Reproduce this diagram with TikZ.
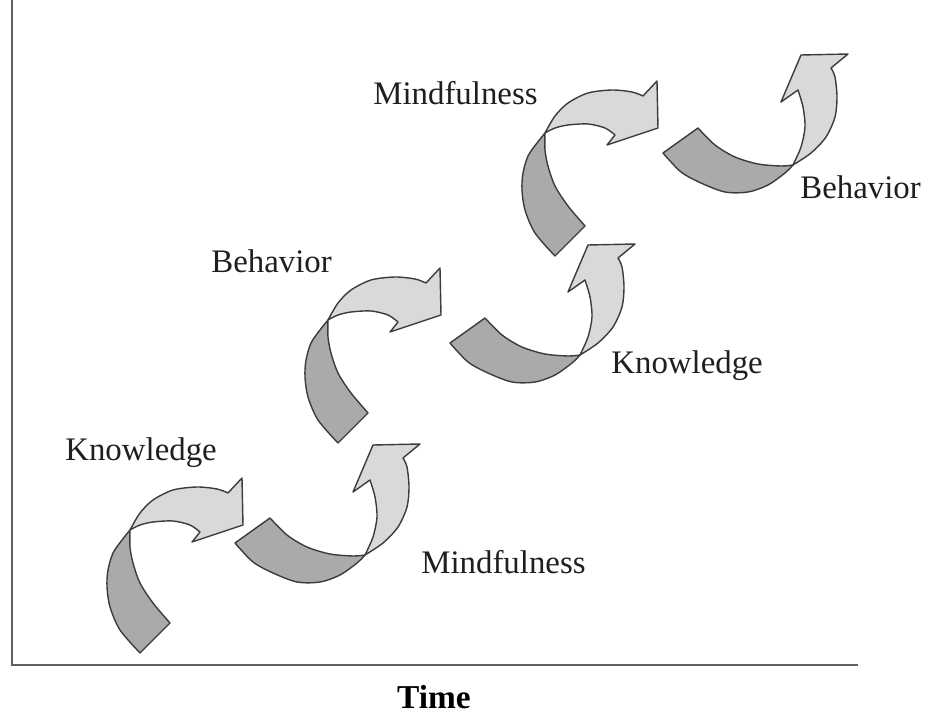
\documentclass[tikz,border=0pt]{standalone}
\usepackage{fontspec}
\setmainfont{Liberation Serif}
\usetikzlibrary{positioning}
\definecolor{ribbondark}{RGB}{170,170,170}
\definecolor{ribbonlight}{RGB}{217,217,217}
\definecolor{ribbonedge}{RGB}{60,60,60}
\definecolor{axisgray}{RGB}{95,95,95}
\tikzset{
  back/.style={fill=ribbondark, draw=ribbonedge, line width=0.8pt, line join=round},
  front/.style={fill=ribbonlight, draw=ribbonedge, line width=0.8pt, line join=round},
  axis/.style={draw=axisgray, line width=1.2pt},
  stage/.style={font=\fontsize{18.7}{22}\selectfont, text=black!88, inner sep=0pt, anchor=base west}
}

\begin{document}
\begin{tikzpicture}[x=0.02cm, y=-0.02cm]
\useasboundingbox (0,0) rectangle (927,713);

% axes
\coordinate (ytop) at (12,0);
\coordinate (origin) at (12,665);
\coordinate (xend) at (858,665);
\draw[axis] (ytop) -- (origin) -- (xend);
\node[font=\fontsize{19}{22}\selectfont\bfseries, inner sep=0pt] (time) at (434,697) {Time};

% curl arrows turning right
\foreach \cx/\cy in {130/530, 328/320, 545/133} {
  \begin{scope}[shift={(\cx,\cy)}]
    \filldraw[back] plot[smooth] coordinates {(0,0) (-8,10) (-17,23) (-22,40) (-23,57) (-20,77) (-10,100) (10,123)}
      -- plot[smooth] coordinates {(40,93) (23,73) (10,53) (3,33) (0,17) (0,0)} -- cycle;
    \filldraw[front] plot[smooth] coordinates {(0,0) (10,-17) (23,-30) (43,-40) (67,-43) (87,-41) (98,-37)}
      -- (112,-52) -- (113,-5) -- (62,12)
      -- plot[smooth] coordinates {(70,2) (60,-5) (43,-9) (23,-8) (10,-5) (0,0)} -- cycle;
  \end{scope}
}

% curl arrows turning up
\foreach \cx/\cy in {365/555, 580/355, 793/165} {
  \begin{scope}[shift={(\cx,\cy)}]
    \filldraw[back] plot[smooth] coordinates {(0,0) (-8,8) (-25,20) (-45,27) (-68,27) (-92,18) (-112,7) (-130,-12)}
      -- plot[smooth] coordinates {(-95,-37) (-78,-20) (-58,-8) (-35,-1) (-12,1) (0,0)} -- cycle;
    \filldraw[front] plot[smooth] coordinates {(0,0) (18,-12) (33,-28) (42,-48) (44,-68) (42,-88) (38,-97)}
      -- (55,-111) -- (8,-110) -- (-12,-63)
      -- plot[smooth] coordinates {(5,-75) (10,-58) (12,-38) (8,-18) (0,0)} -- cycle;
  \end{scope}
}

% labels
\node[stage] (know1) at (65,460) {Knowledge};
\node[stage] (mind1) at (421,573) {Mindfulness};
\node[stage] (behav1) at (211,273) {Behavior};
\node[stage] (know2) at (611,373) {Knowledge};
\node[stage] (mind2) at (373,105) {Mindfulness};
\node[stage] (behav2) at (800,198) {Behavior};

\end{tikzpicture}
\end{document}
